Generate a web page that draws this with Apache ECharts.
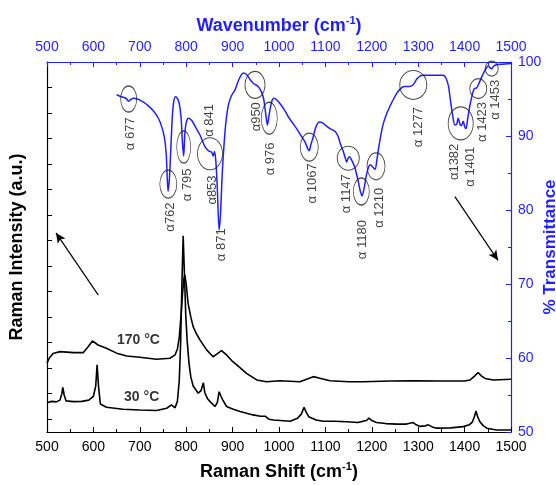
<!DOCTYPE html>
<html><head><meta charset="utf-8">
<script src="https://cdn.jsdelivr.net/npm/echarts@6/dist/echarts.min.js"></script>
<style>html,body{margin:0;padding:0;background:#fff}#c{width:556px;height:485px}</style>
</head><body><div id="c"></div>
<script>
// Raman spectra (bottom axis: Raman shift, left axis: intensity a.u.)
const raman30 = [[500,1.15],[510,1.2],[520,1.18],[528,1.25],[532,1.5],[534,1.75],[537,1.45],[541,1.22],[557,1.19],[575,1.2],[590,1.25],[600,1.4],[605,1.8],[608,2.63],[611,1.8],[615,1.1],[628,0.97],[664,0.89],[700,0.86],[736,0.84],[758,0.93],[768,1.06],[776,0.95],[781,1.2],[785,2.0],[788,3.5],[791,6.0],[793.5,7.69],[796,6.3],[799,4.6],[802,3.6],[806,2.7],[810,2.15],[815,1.8],[826,1.52],[832,1.62],[837,1.93],[840,1.55],[846,1.3],[852,1.18],[862,1.0],[867,1.15],[871,1.58],[875,1.4],[879,1.25],[887,1.0],[900,0.9],[916,0.8],[944,0.67],[960,0.62],[970,0.62],[978,0.5],[988,0.47],[1024,0.42],[1040,0.54],[1048,0.7],[1054,0.97],[1058,0.8],[1064,0.6],[1080,0.47],[1095,0.42],[1120,0.42],[1146,0.4],[1170,0.37],[1188,0.45],[1194,0.54],[1200,0.45],[1210,0.37],[1230,0.33],[1254,0.31],[1275,0.31],[1289,0.37],[1296,0.28],[1304,0.22],[1315,0.24],[1322,0.28],[1330,0.2],[1340,0.15],[1370,0.16],[1397,0.21],[1410,0.28],[1417,0.4],[1421,0.6],[1424.5,0.82],[1428,0.6],[1433,0.4],[1440,0.25],[1448,0.15],[1469,0.08],[1500,0.08]];
const raman170 = [[500,2.7],[505,2.9],[513,3.08],[528,3.15],[557,3.11],[578,3.11],[589,3.35],[598,3.57],[610,3.41],[628,3.28],[650,3.09],[672,2.98],[700,2.93],[736,2.85],[765,2.89],[776,3.02],[781,3.25],[785,3.7],[789,4.6],[792,5.4],[795,6.0],[797,6.16],[800,5.8],[804,5.05],[810,4.5],[815,4.13],[822,3.85],[830,3.6],[844,3.22],[858,2.95],[866,3.05],[876,3.19],[887,3.02],[898,2.8],[909,2.63],[930,2.3],[952,2.04],[973,1.97],[1002,2.01],[1045,1.97],[1074,2.17],[1090,2.1],[1110,2.01],[1150,1.97],[1182,1.97],[1240,2.0],[1290,2.01],[1350,2.0],[1400,2.0],[1412,2.04],[1422,2.2],[1429,2.33],[1436,2.2],[1444,2.1],[1462,2.04],[1500,2.07]];
// FTIR spectrum (top axis: wavenumber, right axis: % transmittance)
const irSpectrum = [[650,95.6],[660,95.3],[670,95.1],[676,94.7],[680,94.9],[686,95.1],[695,95.0],[707,94.6],[718,94.1],[729,93.4],[740,92.4],[747,91.3],[753,89.8],[757,87.5],[761,82.5],[764,84.5],[767,88.5],[770,92.5],[773,94.6],[777,95.3],[781,95.1],[785,94.4],[789,92.5],[792,89],[794.5,87.3],[797,90.2],[800,91.8],[805,92.4],[812,92.1],[820,91.2],[830,90.1],[840,88.6],[848,88.0],[855,87.8],[858,87.3],[861,87.9],[864,86.5],[867,83],[871,77.3],[874,79.5],[877,84],[880,87.4],[885,91.5],[891,94.2],[898,95.5],[905,96.2],[912,97.4],[918,98.2],[923,98.5],[930,98.3],[938,97.6],[945,97.1],[955,96.7],[962,96.0],[967,95.0],[971,93.2],[975,91.5],[978,92.6],[981,93.7],[985,94.8],[989,95.1],[995,94.9],[1002,94.4],[1012,93.5],[1020,92.6],[1030,91.7],[1038,91.0],[1048,90.0],[1056,89.2],[1062,88.3],[1065,88.0],[1069,88.9],[1073,89.7],[1080,91.3],[1087,91.9],[1093,91.8],[1099,91.5],[1110,91.0],[1121,90.6],[1127,90.0],[1132,89.0],[1138,88.0],[1142,87.2],[1146,86.5],[1149,87.0],[1152,87.2],[1156,86.8],[1162,86.0],[1167,84.9],[1171,83.8],[1175,82.6],[1179,81.9],[1183,82.8],[1188,84.6],[1193,85.8],[1197,86.1],[1202,85.8],[1207,85.5],[1211,86.8],[1214,88.1],[1220,90.3],[1225,91.7],[1232,93.0],[1239,94.0],[1246,94.9],[1254,95.8],[1262,96.4],[1270,96.7],[1282,96.7],[1290,97.0],[1297,97.7],[1304,98.1],[1311,98.2],[1330,98.2],[1354,98.2],[1360,97.8],[1365,96.8],[1370,94.6],[1375,92.5],[1379,91.5],[1383,91.6],[1386,92.4],[1390,91.6],[1393,91.4],[1397,92.0],[1400,91.3],[1403,91.0],[1407,92.5],[1412,94.3],[1417,95.7],[1421,96.4],[1426,96.5],[1430,97.0],[1435,97.7],[1440,98.4],[1446,99.1],[1451,99.5],[1455,99.2],[1458,99.1],[1462,99.4],[1467,99.6],[1480,99.7],[1500,99.8]];
// band ellipses: centre (wavenumber, %T)
const ellipseCenters = [[676,95.0],[761.4,83.5],[794.6,88.5],[851.3,87.6],[948.3,96.9],[979.1,92.4],[1065.3,88.5],[1149.3,87.0],[1177.4,82.5],[1209.1,85.9],[1289.4,96.9],[1391.6,91.7],[1429.5,96.4],[1458.4,99.1]];
const ellipseSizes = [[16,26],[17,28],[14,32],[25,32],[20,27],[16,32],[18,28],[22,24],[16,27],[18,27],[27,29],[25,33],[17,20],[13,15]];
// band labels
const bandLabels = ['α 677','α762','α 795','α 841','α853','α 871','α950','α 976','α 1067','α 1147','α 1180','α 1210','α 1277','α1382','α 1401','α 1423','α 1453'];
const bandLabelPos = [[678.9,90.3],[765.1,79.05],[803.2,83.4],[849.6,92.1],[856.3,82.7],[875.0,75.3],[950.4,92.6],[980.6,86.9],[1072.6,83.6],[1145.9,82.2],[1178.9,76.0],[1215.5,80.3],[1299.6,91.2],[1377.2,86.5],[1413.1,85.85],[1438.1,91.9],[1467.0,94.9]];
const tempLabels = ['170 °C','30 °C'];
const tempLabelPos = [[697,3.61],[704,1.38]];
const arrowLines = [[[610.6,68.5],[519.4,76.9]],[[1379,81.8],[1472,73.2]]];
const xTicks = [500,600,700,800,900,1000,1100,1200,1300,1400,1500];
const tTicks = [50,60,70,80,90,100];
const leftTicks = [0.5,1.5,2.5,3.5,4.5,5.5,6.5,7.5,8.5,9.5,10.5,11.5,12.5,13.5];

const BLUE = '#1f1fff';
const FONT = 'Liberation Sans, Arial, sans-serif';
const chart = echarts.init(document.getElementById('c'));
const supRich = (color) => ({
  a:{fontSize:18,fontWeight:'bold',color:color,fontFamily:FONT,lineHeight:22},
  s:{fontSize:11,fontWeight:'bold',color:color,fontFamily:FONT,verticalAlign:'top',lineHeight:22,padding:[0,0,10,0]}
});
const plain = v => String(v);
chart.setOption({
  animation:false,
  textStyle:{fontFamily:FONT},
  grid:{left:47,right:45,top:62,bottom:53,containLabel:false,outerBoundsMode:'none'},
  xAxis:[
    {type:'value',position:'bottom',min:xTicks[0],max:xTicks[xTicks.length-1],interval:100,
     axisLine:{lineStyle:{color:'#000',width:1.2}},axisTick:{inside:true,length:5,lineStyle:{color:'#000'}},
     minorTick:{show:true,splitNumber:2,length:3,lineStyle:{color:'#000'}},splitLine:{show:false},
     axisLabel:{color:'#000',fontSize:14,margin:8,fontFamily:FONT,formatter:plain},
     name:'{a|Raman Shift (cm}{s|-1}{a|)}',nameLocation:'middle',nameGap:29,nameMoveOverlap:false,
     nameTextStyle:{rich:supRich('#000')}},
    {type:'value',position:'top',min:xTicks[0],max:xTicks[xTicks.length-1],interval:100,
     axisLine:{lineStyle:{color:BLUE,width:1.2}},axisTick:{inside:true,length:5,lineStyle:{color:BLUE}},
     minorTick:{show:true,splitNumber:2,length:3,lineStyle:{color:BLUE}},splitLine:{show:false},
     axisLabel:{color:BLUE,fontSize:14,margin:8,fontFamily:FONT,formatter:plain},
     name:'{a|Wavenumber (cm}{s|-1}{a|)}',nameLocation:'middle',nameGap:25,nameMoveOverlap:false,
     nameTextStyle:{rich:supRich(BLUE)}}
  ],
  yAxis:[
    {type:'value',position:'left',min:0,max:14.5,
     axisLine:{show:true,lineStyle:{color:'#000',width:1.2}},
     axisTick:{show:true,inside:true,length:5,customValues:leftTicks,lineStyle:{color:'#000'}},
     axisLabel:{show:false},splitLine:{show:false},
     name:'Raman Intensity (a.u.)',nameLocation:'middle',nameGap:21,nameRotate:90,nameMoveOverlap:false,
     nameTextStyle:{fontSize:18,fontWeight:'bold',color:'#000',fontFamily:FONT}},
    {type:'value',position:'right',min:tTicks[0],max:tTicks[tTicks.length-1],interval:10,
     axisLine:{show:true,lineStyle:{color:BLUE,width:1.2}},
     axisTick:{inside:true,length:5,lineStyle:{color:BLUE}},
     minorTick:{show:true,splitNumber:2,length:3,lineStyle:{color:BLUE}},splitLine:{show:false},
     axisLabel:{color:BLUE,fontSize:14,margin:7,fontFamily:FONT,formatter:plain},
     name:'% Transmittance',nameLocation:'middle',nameGap:31,nameRotate:90,nameMoveOverlap:false,
     nameTextStyle:{fontSize:17,fontWeight:'bold',color:BLUE,fontFamily:FONT}}
  ],
  series:[
    {type:'line',name:'30 °C',xAxisIndex:0,yAxisIndex:0,data:raman30,showSymbol:false,
     lineStyle:{color:'#000',width:1.6},z:3},
    {type:'line',name:'170 °C',xAxisIndex:0,yAxisIndex:0,data:raman170,showSymbol:false,
     lineStyle:{color:'#000',width:1.6},z:3},
    {type:'line',name:'FTIR',xAxisIndex:1,yAxisIndex:1,data:irSpectrum,showSymbol:false,smooth:0.3,
     lineStyle:{color:BLUE,width:1.5},z:4,
     markLine:{silent:true,symbol:['none','arrow'],symbolSize:[7,10],label:{show:false},
       lineStyle:{color:'#000',width:1.2,type:'solid'},
       data:arrowLines.map(l=>[{coord:l[0]},{coord:l[1]}])}},
    {type:'scatter',xAxisIndex:1,yAxisIndex:1,z:5,silent:true,
     data:ellipseCenters.map((c,i)=>({value:c,symbolSize:ellipseSizes[i]})),
     symbol:'circle',itemStyle:{color:'rgba(0,0,0,0)',borderColor:'#222',borderWidth:1}},
    {type:'scatter',xAxisIndex:1,yAxisIndex:1,z:6,silent:true,symbolSize:0,
     data:bandLabelPos.map((p,i)=>({value:p,name:bandLabels[i]})),
     label:{show:true,position:'inside',rotate:90,formatter:p=>p.name,color:'#111',fontSize:13,fontFamily:FONT}},
    {type:'scatter',xAxisIndex:0,yAxisIndex:0,z:6,silent:true,symbolSize:0,
     data:tempLabelPos.map((p,i)=>({value:p,name:tempLabels[i]})),
     label:{show:true,position:'inside',formatter:p=>p.name,color:'#000',fontSize:14,fontWeight:'bold',fontFamily:FONT}}
  ]
});
</script></body></html>
